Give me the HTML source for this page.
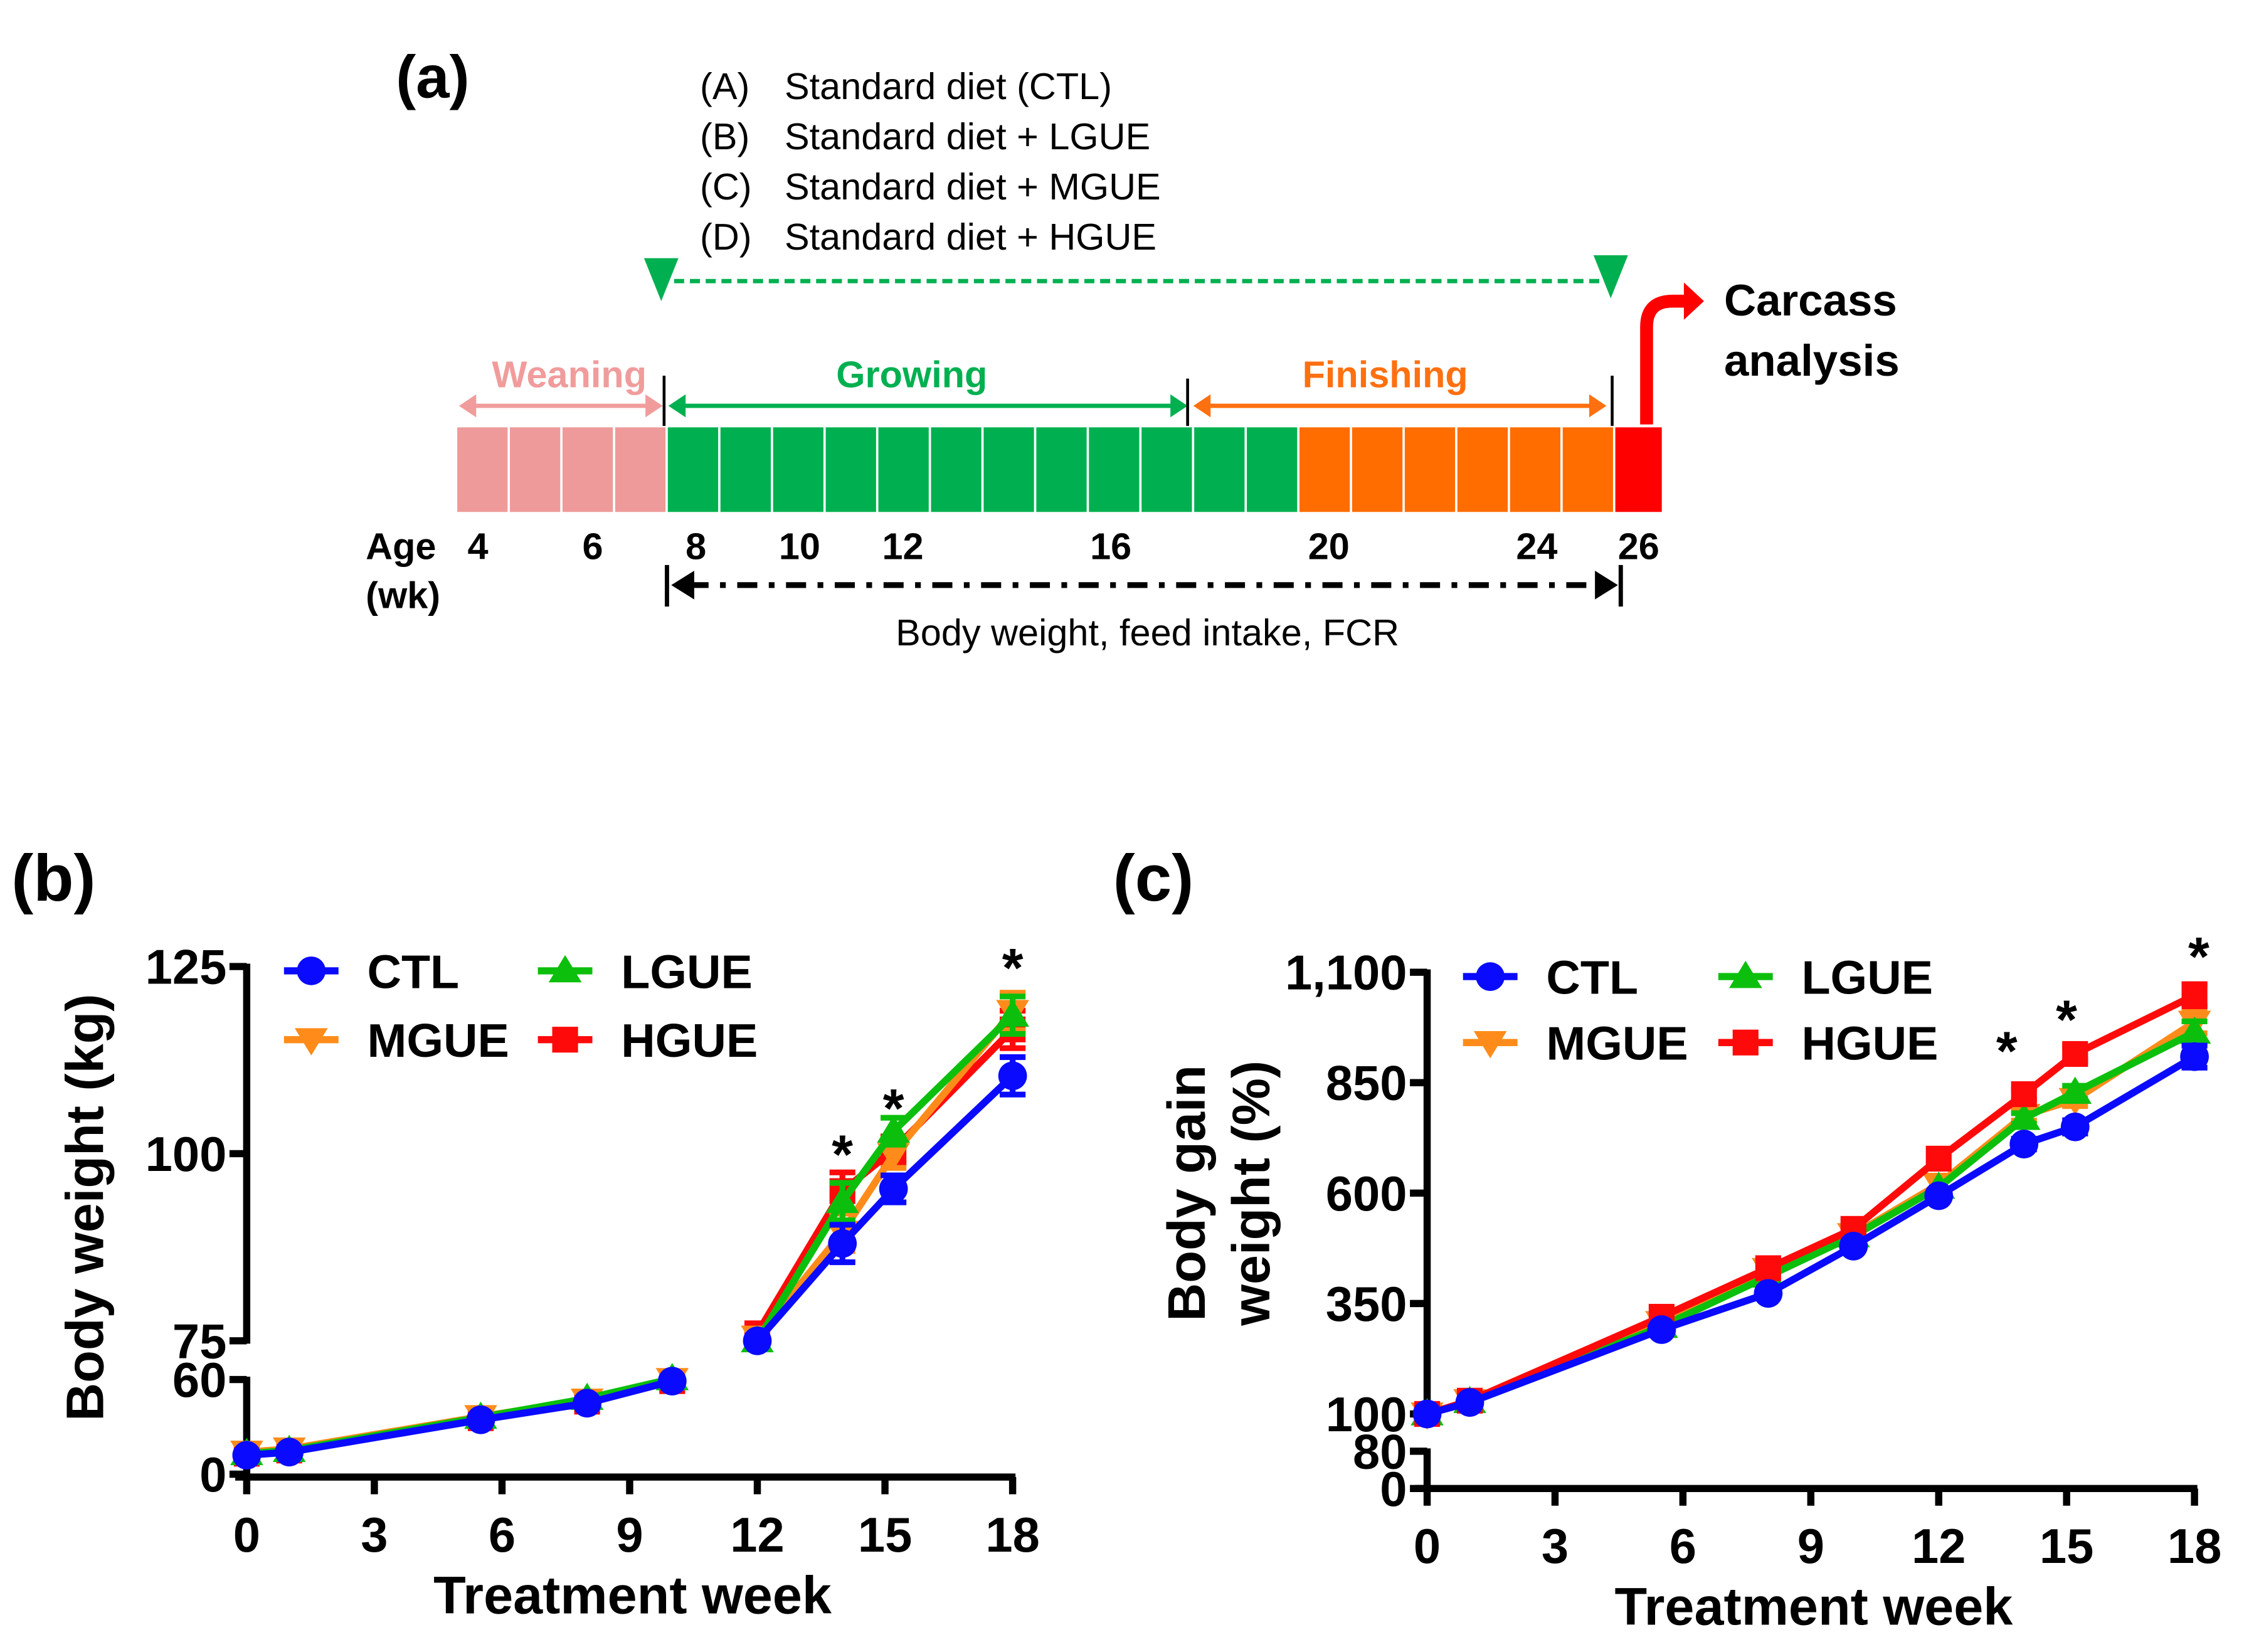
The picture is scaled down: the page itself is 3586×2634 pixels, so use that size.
<!DOCTYPE html>
<html><head><meta charset="utf-8"><style>
html,body{margin:0;padding:0;background:#fff}
svg{display:block}
text{font-family:"Liberation Sans",Arial,sans-serif}
</style></head><body>
<svg id="fig" xmlns="http://www.w3.org/2000/svg" width="3586" height="2634" viewBox="0 0 1568 1152" preserveAspectRatio="none">
<g id="panelA">
<text x="276" y="68" font-size="42" font-weight="bold">(a)</text>
<g font-size="26">
<text x="488" y="69">(A)</text><text x="547" y="69">Standard diet (CTL)</text>
<text x="488" y="104">(B)</text><text x="547" y="104">Standard diet + LGUE</text>
<text x="488" y="139">(C)</text><text x="547" y="139">Standard diet + MGUE</text>
<text x="488" y="174">(D)</text><text x="547" y="174">Standard diet + HGUE</text>
</g>
<polygon points="449,180 473,180 461,210" fill="#00b050"/>
<polygon points="1111,178 1135,178 1123,208" fill="#00b050"/>
<line x1="470" y1="196" x2="1115" y2="196" stroke="#00b050" stroke-width="3" stroke-dasharray="7,4"/>
<path d="M1148,296 L1148,228 Q1148,210 1166,210 L1176,210" fill="none" stroke="#ff0000" stroke-width="9"/>
<polygon points="1174,197 1188,210 1174,223" fill="#ff0000"/>
<text x="1202" y="220" font-size="31" font-weight="bold">Carcass</text>
<text x="1202" y="262" font-size="31" font-weight="bold">analysis</text>
<g font-size="26" font-weight="bold">
<text x="343" y="270" fill="#f19c9c">Weaning</text>
<text x="583" y="270" fill="#00b050">Growing</text>
<text x="908" y="270" fill="#ff7010">Finishing</text>
</g>
<g stroke-width="3">
<line x1="324" y1="283" x2="458" y2="283" stroke="#f19c9c"/>
<polygon points="320,283 332,275 332,291" fill="#f19c9c"/><polygon points="462,283 450,275 450,291" fill="#f19c9c"/>
<line x1="470" y1="283" x2="824" y2="283" stroke="#00b050"/>
<polygon points="466,283 478,275 478,291" fill="#00b050"/><polygon points="828,283 816,275 816,291" fill="#00b050"/>
<line x1="836" y1="283" x2="1116" y2="283" stroke="#ff7010"/>
<polygon points="832,283 844,275 844,291" fill="#ff7010"/><polygon points="1120,283 1108,275 1108,291" fill="#ff7010"/>
<line x1="463" y1="262" x2="463" y2="297" stroke="#000" stroke-width="2"/>
<line x1="828" y1="264" x2="828" y2="297" stroke="#000" stroke-width="2"/>
<line x1="1124" y1="262" x2="1124" y2="297" stroke="#000" stroke-width="2"/>
</g>
<g id="cells"></g>
<g font-size="26" font-weight="bold">
<text x="255" y="390">Age</text><text x="255" y="424">(wk)</text>
<text x="326" y="390">4</text><text x="406" y="390">6</text><text x="478" y="390">8</text>
<text x="543" y="390">10</text><text x="615" y="390">12</text><text x="760" y="390">16</text>
<text x="912" y="390">20</text><text x="1057" y="390">24</text><text x="1128" y="390">26</text>
</g>
<line x1="480" y1="408" x2="1116" y2="408" stroke="#000" stroke-width="4" stroke-dasharray="14,8,4,8"/>
<polygon points="468,408 484,398 484,418" fill="#000"/><polygon points="1128,408 1112,398 1112,418" fill="#000"/>
<line x1="465" y1="394" x2="465" y2="423" stroke="#000" stroke-width="3"/>
<line x1="1130" y1="394" x2="1130" y2="423" stroke="#000" stroke-width="3"/>
<text x="800" y="450" font-size="26" text-anchor="middle">Body weight, feed intake, FCR</text>
</g>
<text x="8" y="628" font-size="46" font-weight="bold">(b)</text>
<text x="776" y="628" font-size="46" font-weight="bold">(c)</text>
<g id="chartB"></g>
<g id="chartC"></g>
</svg>
<script>
const weeks = [0, 1, 5.5, 8, 10, 12, 14, 15.2, 18];
const seriesNames = ["CTL", "MGUE", "LGUE", "HGUE"];
const bwCTL = [12, 14, 34.5, 45, 59, 75, 88, 95.3, 110.4];
const bwMGUE = [14, 16, 36.5, 47, 60, 75.5, 89.5, 99.9, 119];
const bwLGUE = [13, 15, 36, 48, 60.5, 75, 93.6, 103, 118.5];
const bwHGUE = [13, 15, 35.5, 46, 59, 76, 95, 100.5, 116.6];
const bwErr = [0, 0, 0, 0, 0, 0, 2.5, 1.8, 2.5];
const bgCTL = [100, 126, 291, 373, 480, 594, 711, 750, 909];
const bgMGUE = [100, 130, 307, 427, 506, 620, 776, 812, 987];
const bgLGUE = [100, 128, 298, 412, 503, 613, 769, 828, 964];
const bgHGUE = [100, 130, 320, 430, 519, 678, 824, 915, 1048];
const bgErr = [0, 0, 0, 0, 0, 0, 12, 15, 25];
const xTicks = [0, 3, 6, 9, 12, 15, 18];
const bwTicks = ["125", "100", "75", "60", "0"];
const bgTicks = ["1,100", "850", "600", "350", "100", "80", "0"];
const starWeeks = [14, 15.2, 18];
const cellCounts = [4, 12, 6, 1];

const NS = "http://www.w3.org/2000/svg";
function mk(parent, tag, attrs, txt) {
  const e = document.createElementNS(NS, tag);
  for (const k in attrs) e.setAttribute(k, attrs[k]);
  if (txt !== undefined) e.textContent = txt;
  parent.appendChild(e);
  return e;
}
const cellColors = ["#ee9a9a", "#00b050", "#ff6d01", "#ff0000"];
const cg = document.getElementById("cells");
let cx = 318;
cellCounts.forEach((n, gi) => {
  for (let i = 0; i < n; i++) {
    const w = gi === 3 ? 34 : 36.7;
    const r = mk(cg, "rect", {x: cx + 0.8, y: 298, width: w - 1.6, height: 59, fill: cellColors[gi]});
    
    
    cx += w;
  }
});

const colors = {CTL: "#0a0aff", MGUE: "#ff8c1a", LGUE: "#0cbf0c", HGUE: "#ff0a0a"};
function marker(g, type, x, y, col, s) {
  let m;
  if (type === "CTL") m = mk(g, "circle", {cx: x, cy: y, r: s, fill: col});
  else if (type === "LGUE") m = mk(g, "polygon", {points: `${x - s*1.15},${y + s*0.8} ${x + s*1.15},${y + s*0.8} ${x},${y - s*1.1}`, fill: col});
  else if (type === "MGUE") m = mk(g, "polygon", {points: `${x - s*1.15},${y - s*0.8} ${x + s*1.15},${y - s*0.8} ${x},${y + s*1.1}`, fill: col});
  else m = mk(g, "rect", {x: x - s*0.9, y: y - s*0.9, width: s*1.8, height: s*1.8, fill: col});
  
  
}

function drawChart(g, cfg) {
  const X = w => cfg.x0 + (w - 0) * (cfg.x1 - cfg.x0) / 18;
  const ax = mk(g, "g", {});
  
  
  mk(ax, "line", {x1: cfg.x0 - 8, y1: cfg.axisY, x2: cfg.x1 + 2, y2: cfg.axisY, stroke: "#000", "stroke-width": 5});
  cfg.segs.forEach(sg => mk(ax, "line", {x1: cfg.x0, y1: sg[0], x2: cfg.x0, y2: sg[1], stroke: "#000", "stroke-width": 5}));
  cfg.yTicks.forEach((t, i) => {
    const y = cfg.Y(cfg.yVals[i]);
    mk(ax, "line", {x1: cfg.x0 - 12, y1: y, x2: cfg.x0, y2: y, stroke: "#000", "stroke-width": 5});
    const tt = mk(ax, "text", {x: cfg.x0 - 14, y: y + 12, "font-size": 34, "font-weight": "bold", "text-anchor": "end"}, t);
    
    
  });
  xTicks.forEach(t => {
    const x = X(t);
    mk(ax, "line", {x1: x, y1: cfg.axisY, x2: x, y2: cfg.axisY + 12, stroke: "#000", "stroke-width": 5});
    const tt = mk(ax, "text", {x: x, y: cfg.axisY + 52, "font-size": 34, "font-weight": "bold", "text-anchor": "middle"}, String(t));
    
    
  });
  const xt = mk(ax, "text", {x: (cfg.x0 + cfg.x1) / 2 + 2, y: cfg.axisY + 95, "font-size": 37, "font-weight": "bold", "text-anchor": "middle"}, "Treatment week");
  
  
  cfg.yTitle.forEach((line, i) => {
    const yt = mk(ax, "text", {x: 0, y: 0, "font-size": 37, "font-weight": "bold", "text-anchor": "middle", transform: `translate(${cfg.yTitleX + i * 45},${cfg.yTitleY}) rotate(-90)`}, line);
    
    
  });
  const drawOrder = cfg.drawOrder;
  drawOrder.forEach(name => {
    const vals = cfg.data[name];
    const col = colors[name];
    const sg = mk(g, "g", {});
    
    
    let d = "";
    weeks.forEach((w, i) => {
      const cmd = (i === 0 || (cfg.breakAfter !== undefined && i === cfg.breakAfter + 1)) ? "M" : "L";
      d += `${cmd}${X(w)},${cfg.Y(vals[i])} `;
    });
    const p = mk(sg, "path", {d: d, fill: "none", stroke: col, "stroke-width": 5, "stroke-linejoin": "round"});
    
    
    weeks.forEach((w, i) => {
      const e = cfg.err[i];
      if (e > 0) {
        const x = X(w), yt = cfg.Y(vals[i] + e), yb = cfg.Y(vals[i] - e);
        const eb = mk(sg, "path", {d: `M${x},${yt} L${x},${yb} M${x - 9},${yt} L${x + 9},${yt} M${x - 9},${yb} L${x + 9},${yb}`, stroke: col, "stroke-width": 4, fill: "none"});
        
        
      }
      marker(sg, name, X(w), cfg.Y(vals[i]), col, 10);
    });
  });
  starWeeks.forEach((w, i) => {
    const st = mk(g, "text", {x: X(w) + cfg.starDx[i], y: cfg.starY[i], "font-size": 38, "font-weight": "bold", "text-anchor": "middle"}, "*");
    
    
  });
  const lg = mk(g, "g", {});
  
  
  const pos = {CTL: [cfg.lx[0], cfg.ly[0]], LGUE: [cfg.lx[1], cfg.ly[0]], MGUE: [cfg.lx[0], cfg.ly[1]], HGUE: [cfg.lx[1], cfg.ly[1]]};
  seriesNames.forEach(name => {
    const [x, y] = pos[name];
    const le = mk(lg, "g", {});
    
    
    mk(le, "line", {x1: x, y1: y, x2: x + 38, y2: y, stroke: colors[name], "stroke-width": 5});
    marker(le, name, x + 19, y, colors[name], 10);
    mk(le, "text", {x: x + 58, y: y + 12, "font-size": 33, "font-weight": "bold"}, name);
  });
}

function YB(v) { return v >= 75 ? 935 - (v - 75) * (935 - 674) / 50 : 1028 - v * (1028 - 962) / 60; }
drawChart(document.getElementById("chartB"), {
  x0: 172, x1: 706, axisY: 1030, Y: YB, segs: [[672, 937], [960, 1030]],
  yTicks: bwTicks, yVals: [125, 100, 75, 60, 0],
  yTitle: ["Body weight (kg)"], yTitleX: 72, yTitleY: 842,
  data: {CTL: bwCTL, MGUE: bwMGUE, LGUE: bwLGUE, HGUE: bwHGUE}, err: bwErr,
  breakAfter: 4, starDx: [0, 0, 0], starY: [818, 786, 688],
  lx: [198, 375], ly: [677, 725], drawOrder: ["HGUE", "MGUE", "LGUE", "CTL"]
});
function YC(v) { return v >= 100 ? 986 - (v - 100) * (986 - 678) / 1000 : 1038 - v * (1038 - 1012) / 80; }
drawChart(document.getElementById("chartC"), {
  x0: 995, x1: 1530, axisY: 1038, Y: YC, segs: [[676, 990], [1010, 1038]],
  yTicks: bgTicks, yVals: [1100, 850, 600, 350, 100, 80, 0],
  yTitle: ["Body gain", "weight (%)"], yTitleX: 840, yTitleY: 832,
  data: {CTL: bgCTL, MGUE: bgMGUE, LGUE: bgLGUE, HGUE: bgHGUE}, err: bgErr,
  starDx: [-12, -6, 3], starY: [746, 724, 680],
  lx: [1020, 1198], ly: [681, 727], drawOrder: ["MGUE", "LGUE", "HGUE", "CTL"]
});
</script>
</body></html>
